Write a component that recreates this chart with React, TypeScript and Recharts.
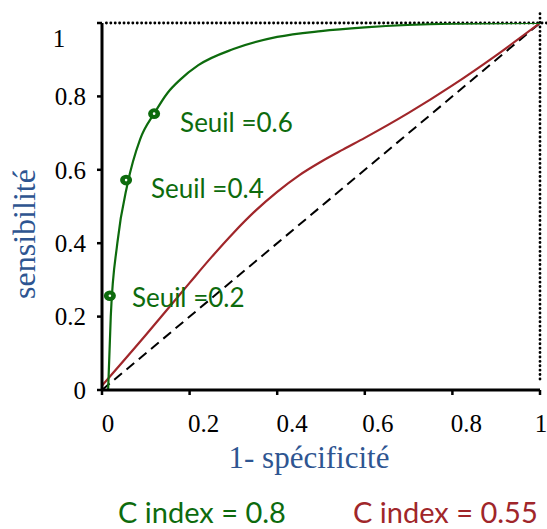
import React from "react";
import {
  ComposedChart,
  Line,
  Scatter,
  XAxis,
  YAxis,
  ReferenceLine,
} from "recharts";

// ---------- data ----------
const xTicks = [0, 0.2, 0.4, 0.6, 0.8, 1];
const xTickLabels = ["0", "0.2", "0.4", "0.6", "0.8", "1"];
const yTicks = [0, 0.2, 0.4, 0.6, 0.8, 1];
const yTickLabels = ["0", "0.2", "0.4", "0.6", "0.8", "1"];

const greenX = [0.014, 0.02, 0.035, 0.058, 0.087, 0.12, 0.15, 0.178, 0.22, 0.3, 0.4, 0.5, 0.6, 0.8, 1];
const greenY = [0, 0.2, 0.4, 0.56, 0.683, 0.755, 0.81, 0.845, 0.885, 0.929, 0.962, 0.978, 0.988, 0.998, 1];

const redX = [0, 0.1, 0.2, 0.25, 0.3, 0.35, 0.4, 0.45, 0.5, 0.55, 0.6, 0.7, 0.8, 0.9, 1];
const redY = [0.012, 0.15, 0.292, 0.362, 0.428, 0.488, 0.54, 0.585, 0.622, 0.655, 0.687, 0.755, 0.83, 0.912, 1];

const seuilX = [0.018, 0.055, 0.119];
const seuilY = [0.257, 0.572, 0.753];
const seuilLabels = ["Seuil =0.2", "Seuil =0.4", "Seuil =0.6"];

const cIndexGreen = "C index = 0.8";
const cIndexRed = "C index = 0.55";
const xTitle = "1- spécificité";
const yTitle = "sensibilité";

// ---------- built tables ----------
const greenData = greenX.map((x, i) => ({ x, y: greenY[i] }));
const redData = redX.map((x, i) => ({ x, y: redY[i] }));
const seuilData = seuilX.map((x, i) => ({ x, y: seuilY[i], label: seuilLabels[i] }));

// ---------- styles ----------
const GREEN = "#0D6B0D";
const RED = "#A0262A";
const BLUE = "#2E5591";
const SERIF = "'Liberation Serif', 'Times New Roman', serif";
const SANS = "Lato, 'Open Sans', sans-serif";
const xLabelShift = [6, 14, 15, 13, 14, 1];
const seuilLabelOffset = [
  { dx: 22, dy: 11 },
  { dx: 25, dy: 18 },
  { dx: 26, dy: 18 },
];

const YTick = (props: any) => {
  const { y, payload, index } = props;
  const label = yTickLabels[index] ?? String(payload.value);
  if (payload.value === 1) {
    return (
      <text x={59} y={y + 15} dy="0.35em" textAnchor="middle" fontFamily={SERIF} fontSize={25} fill="#000">
        {label}
      </text>
    );
  }
  return (
    <text x={86} y={y} dy="0.35em" textAnchor="end" fontFamily={SERIF} fontSize={25} fill="#000">
      {label}
    </text>
  );
};

const XTick = (props: any) => {
  const { x, payload, index } = props;
  const label = xTickLabels[index] ?? String(payload.value);
  return (
    <text x={x + (xLabelShift[index] ?? 0)} y={432} textAnchor="middle" fontFamily={SERIF} fontSize={25} fill="#000">
      {label}
    </text>
  );
};

const SeuilShape = (props: any) => {
  const { cx, cy, payload, index } = props;
  const off = seuilLabelOffset[index] ?? { dx: 24, dy: 16 };
  return (
    <g>
      <ellipse cx={cx} cy={cy} rx={6} ry={5.3} fill={GREEN} />
      <circle cx={cx} cy={cy} r={1.3} fill="#fff" />
      <text x={cx + off.dx} y={cy + off.dy} fontFamily={SANS} fontSize={26} fill={GREEN}>
        {payload.label}
      </text>
    </g>
  );
};

const YTitle = () => (
  <text
    x={35}
    y={234}
    transform="rotate(-90, 35, 234)"
    textAnchor="middle"
    fontFamily={SERIF}
    fontSize={32}
    fill={BLUE}
  >
    {yTitle}
  </text>
);

const XTitle = () => (
  <text x={309} y={468} textAnchor="middle" fontFamily={SERIF} fontSize={31} fill={BLUE}>
    {xTitle}
  </text>
);

export default function App() {
  return (
    <div style={{ position: "absolute", left: 0, top: 0, width: 547, height: 529, background: "#fff" }}>
      <ComposedChart width={547} height={529} margin={{ top: 23, right: 7, left: 0, bottom: 0 }}>
        <XAxis
          type="number"
          dataKey="x"
          domain={[0, 1]}
          ticks={xTicks}
          tick={<XTick />}
          tickSize={5}
          axisLine={{ stroke: "#000", strokeWidth: 3 }}
          tickLine={{ stroke: "#000", strokeWidth: 2.5 }}
          height={139}
          allowDataOverflow
          label={<XTitle />}
        />
        <YAxis
          type="number"
          dataKey="y"
          domain={[0, 1]}
          ticks={yTicks}
          tick={<YTick />}
          tickSize={5}
          axisLine={{ stroke: "#000", strokeWidth: 3 }}
          tickLine={{ stroke: "#000", strokeWidth: 2.5 }}
          width={102}
          allowDataOverflow
          label={<YTitle />}
        />
        <ReferenceLine
          segment={[{ x: 0.01, y: 1 }, { x: 1.016, y: 1 }]}
          stroke="#000"
          strokeWidth={2.8}
          strokeDasharray="0.1 4.3"
          strokeLinecap="round"
          ifOverflow="visible"
        />
        <ReferenceLine
          segment={[{ x: 1, y: 0.03 }, { x: 1, y: 1.027 }]}
          stroke="#000"
          strokeWidth={2.8}
          strokeDasharray="0.1 4.3"
          strokeLinecap="round"
          ifOverflow="visible"
        />
        <ReferenceLine
          segment={[{ x: 0, y: 0 }, { x: 1, y: 1 }]}
          stroke="#000"
          strokeWidth={2}
          strokeDasharray="10 6"
          ifOverflow="visible"
        />
        <Line
          data={redData}
          dataKey="y"
          type="monotone"
          stroke={RED}
          strokeWidth={2.2}
          dot={false}
          isAnimationActive={false}
        />
        <Line
          data={greenData}
          dataKey="y"
          type="monotone"
          stroke={GREEN}
          strokeWidth={2.2}
          dot={false}
          isAnimationActive={false}
        />
        <Scatter data={seuilData} dataKey="y" shape={<SeuilShape />} isAnimationActive={false} />
      </ComposedChart>
      <svg
        width={547}
        height={529}
        style={{ position: "absolute", left: 0, top: 0, pointerEvents: "none" }}
      >
        <text x={118} y={523} fontFamily={SANS} fontSize={29} fill={GREEN}>
          {cIndexGreen}
        </text>
        <text x={353} y={523} fontFamily={SANS} fontSize={29} fill={RED}>
          {cIndexRed}
        </text>
      </svg>
    </div>
  );
}
